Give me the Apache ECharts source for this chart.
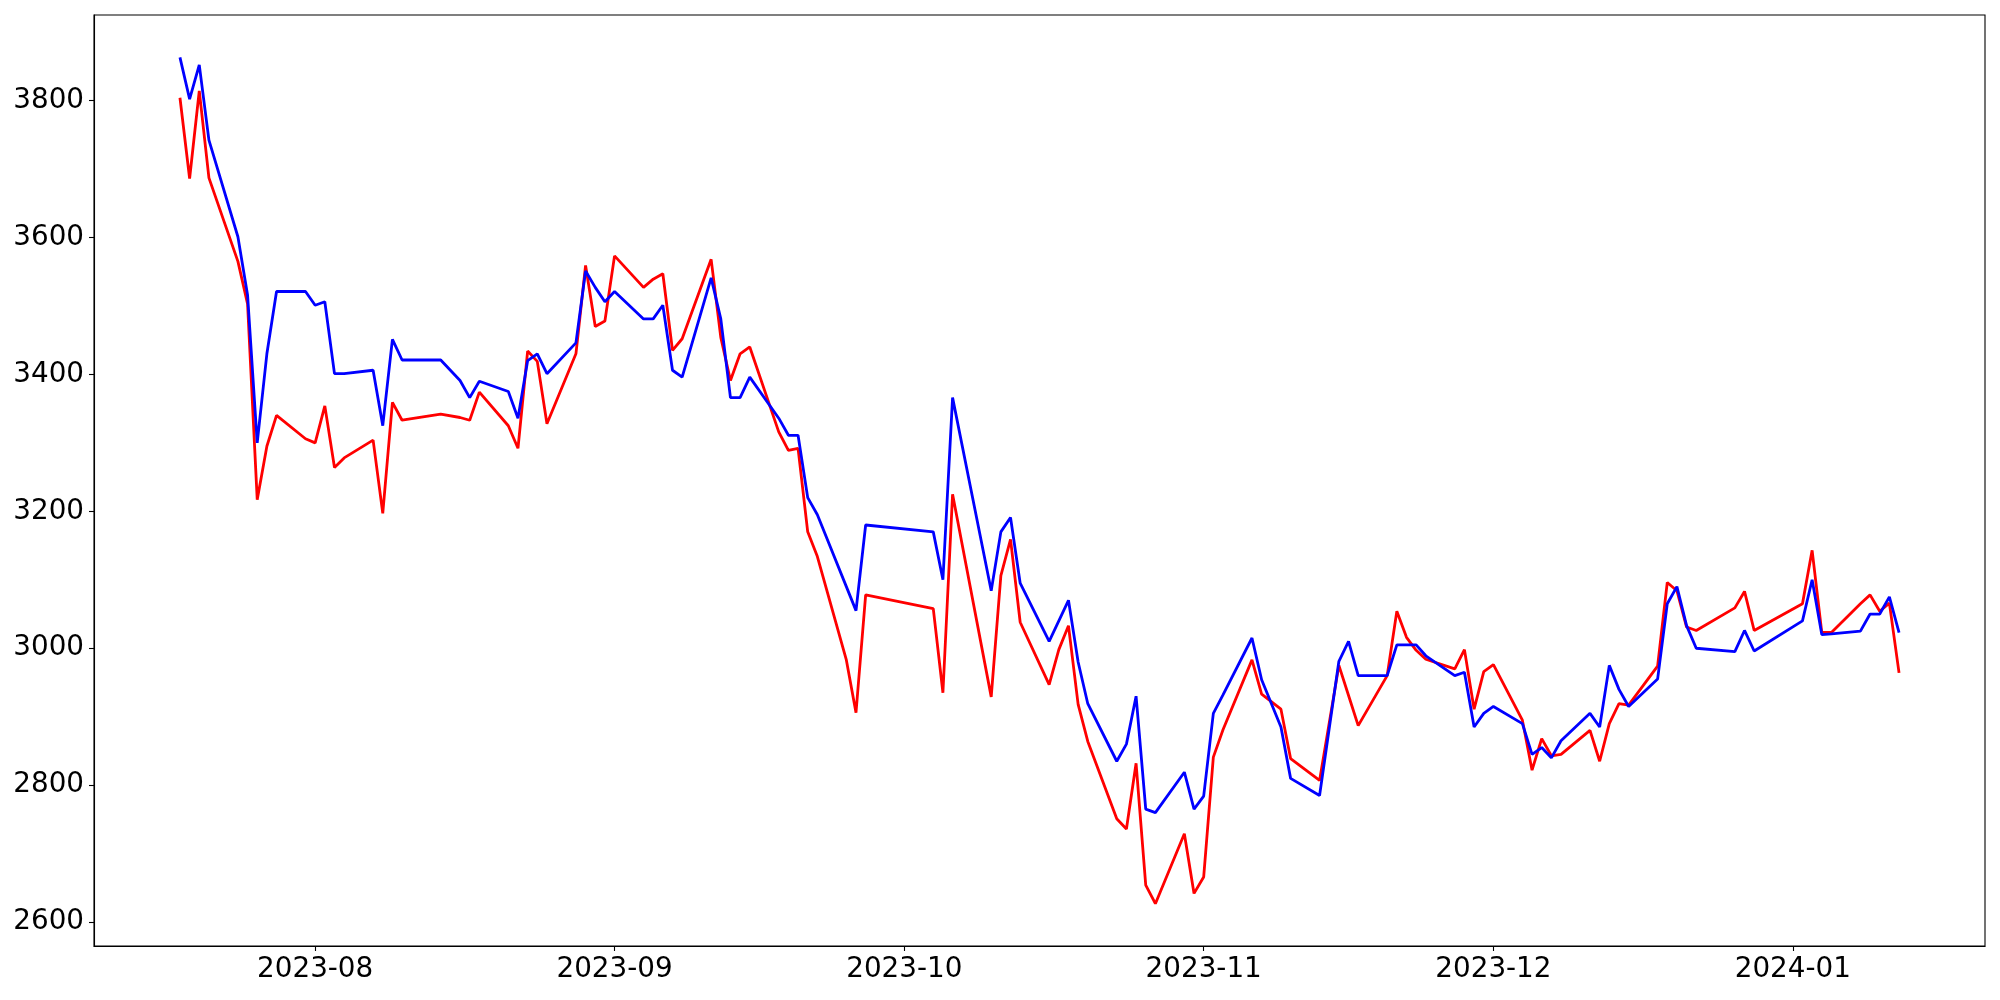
<!DOCTYPE html>
<html>
<head>
<meta charset="utf-8">
<script src="https://cdn.jsdelivr.net/npm/echarts@6/dist/echarts.min.js"></script>
<style>
  html, body { margin: 0; padding: 0; background: #fff; }
  #chart { width: 2000px; height: 1000px; }
</style>
</head>
<body>
<div id="chart"></div>
<script>
// trading days
const dates = [
  '2023-07-18', '2023-07-19', '2023-07-20', '2023-07-21', '2023-07-24', '2023-07-25', '2023-07-26', '2023-07-27', '2023-07-28', '2023-07-31',
  '2023-08-01', '2023-08-02', '2023-08-03', '2023-08-04', '2023-08-07', '2023-08-08', '2023-08-09', '2023-08-10', '2023-08-14', '2023-08-16',
  '2023-08-17', '2023-08-18', '2023-08-21', '2023-08-22', '2023-08-23', '2023-08-24', '2023-08-25', '2023-08-28', '2023-08-29', '2023-08-30',
  '2023-08-31', '2023-09-01', '2023-09-04', '2023-09-05', '2023-09-06', '2023-09-07', '2023-09-08', '2023-09-11', '2023-09-12', '2023-09-13',
  '2023-09-14', '2023-09-15', '2023-09-18', '2023-09-19', '2023-09-20', '2023-09-21', '2023-09-22', '2023-09-25', '2023-09-26', '2023-09-27',
  '2023-10-04', '2023-10-05', '2023-10-06', '2023-10-10', '2023-10-11', '2023-10-12', '2023-10-13', '2023-10-16', '2023-10-17', '2023-10-18',
  '2023-10-19', '2023-10-20', '2023-10-23', '2023-10-24', '2023-10-25', '2023-10-26', '2023-10-27', '2023-10-30', '2023-10-31', '2023-11-01',
  '2023-11-02', '2023-11-03', '2023-11-06', '2023-11-07', '2023-11-09', '2023-11-10', '2023-11-13', '2023-11-15', '2023-11-16', '2023-11-17',
  '2023-11-20', '2023-11-21', '2023-11-22', '2023-11-23', '2023-11-24', '2023-11-27', '2023-11-28', '2023-11-29', '2023-11-30', '2023-12-01',
  '2023-12-04', '2023-12-05', '2023-12-06', '2023-12-07', '2023-12-08', '2023-12-11', '2023-12-12', '2023-12-13', '2023-12-14', '2023-12-15',
  '2023-12-18', '2023-12-19', '2023-12-20', '2023-12-21', '2023-12-22', '2023-12-26', '2023-12-27', '2023-12-28', '2024-01-02', '2024-01-03',
  '2024-01-04', '2024-01-05', '2024-01-08', '2024-01-09', '2024-01-10', '2024-01-11', '2024-01-12'
]

const redValues = [
  3804, 3686, 3814, 3687, 3565, 3503, 3217, 3295, 3340, 3306,
  3300, 3354, 3264, 3278, 3304, 3197, 3359, 3333, 3342, 3337,
  3333, 3374, 3325, 3292, 3434, 3419, 3328, 3430, 3559, 3470,
  3478, 3573, 3527, 3539, 3547, 3435, 3452, 3568, 3454, 3391,
  3430, 3440, 3316, 3289, 3292, 3170, 3134, 2983, 2906, 3078,
  3058, 2935, 3225, 2929, 3106, 3159, 3038, 2947, 2998, 3033,
  2918, 2864, 2751, 2736, 2832, 2654, 2627, 2729, 2642, 2666,
  2841, 2881, 2983, 2933, 2911, 2839, 2807, 2975, 2931, 2887,
  2960, 3054, 3016, 2997, 2984, 2970, 2998, 2911, 2966, 2976,
  2895, 2822, 2868, 2843, 2845, 2880, 2835, 2890, 2919, 2917,
  2974, 3096, 3084, 3031, 3026, 3059, 3083, 3026, 3065, 3143,
  3023, 3023, 3065, 3078, 3054, 3066, 2964
]

const blueValues = [
  3863, 3802, 3852, 3742, 3601, 3516, 3300, 3430, 3521, 3521,
  3501, 3506, 3401, 3401, 3406, 3325, 3451, 3421, 3421, 3391,
  3366, 3390, 3375, 3336, 3420, 3430, 3401, 3446, 3551, 3527,
  3506, 3521, 3481, 3481, 3501, 3406, 3396, 3541, 3481, 3366,
  3366, 3396, 3336, 3311, 3311, 3220, 3195, 3090, 3055, 3180,
  3170, 3100, 3366, 3084, 3170, 3191, 3095, 3010, 3040, 3070,
  2980, 2919, 2835, 2860, 2930, 2765, 2760, 2819, 2765, 2784,
  2905, 2932, 3015, 2954, 2885, 2810, 2785, 2981, 3010, 2960,
  2960, 3005, 3005, 3005, 2989, 2960, 2965, 2885, 2905, 2915,
  2890, 2845, 2855, 2840, 2865, 2905, 2885, 2975, 2940, 2915,
  2955, 3065, 3090, 3033, 3000, 2995, 3026, 2996, 3040, 3100,
  3020, 3021, 3025, 3050, 3050, 3075, 3023
]

const xTicks = ['2023-08', '2023-09', '2023-10', '2023-11', '2023-12', '2024-01']
const yTicks = [2600, 2800, 3000, 3200, 3400, 3600, 3800]

function toTime(s) {
  const p = s.split('-').map(Number)
  return new Date(p[0], p[1] - 1, p[2] || 1).getTime()
}

const times = dates.map(toTime)
const xSpan = times[times.length - 1] - times[0]
const xMin = times[0] - xSpan * 0.05
const xMax = times[times.length - 1] + xSpan * 0.05
const allVals = redValues.concat(blueValues)
const yLo = Math.min.apply(null, allVals)
const yHi = Math.max.apply(null, allVals)
const yMin = yLo - (yHi - yLo) * 0.05
const yMax = yHi + (yHi - yLo) * 0.05

const font = { fontFamily: 'DejaVu Sans', fontSize: 27.8, color: '#000' }

let myChart = echarts.init(document.getElementById('chart'))
myChart.setOption({
  backgroundColor: '#fff',
  animation: false,
  grid: {
    left: 94,
    right: 15,
    top: 15,
    bottom: 54,
    show: true,
    borderColor: '#000',
    borderWidth: 1.1,
    containLabel: false,
    outerBoundsMode: 'none'
  },
  xAxis: {
    // value axis holding timestamps, so the month ticks can be placed exactly
    type: 'value',
    min: xMin,
    max: xMax,
    axisLine: { show: true, onZero: false, lineStyle: { color: '#000', width: 1.1 } },
    axisTick: {
      show: true,
      length: 5,
      lineStyle: { color: '#000', width: 1.1 },
      customValues: xTicks.map(toTime)
    },
    axisLabel: Object.assign({
      margin: 10,
      customValues: xTicks.map(toTime),
      formatter: function (v) {
        const d = new Date(v)
        return d.getFullYear() + '-' + String(d.getMonth() + 1).padStart(2, '0')
      }
    }, font),
    splitLine: { show: false }
  },
  yAxis: {
    type: 'value',
    min: yMin,
    max: yMax,
    axisLine: { show: true, onZero: false, lineStyle: { color: '#000', width: 1.1 } },
    axisTick: {
      show: true,
      length: 5,
      lineStyle: { color: '#000', width: 1.1 },
      customValues: yTicks
    },
    axisLabel: Object.assign({
      margin: 10,
      customValues: yTicks,
      formatter: function (v) { return String(v) }
    }, font),
    splitLine: { show: false }
  },
  series: [
    {
      name: 'red',
      type: 'line',
      data: times.map((t, i) => [t, redValues[i]]),
      showSymbol: false,
      lineStyle: { color: '#ff0000', width: 2.8 },
      itemStyle: { color: '#ff0000' }
    },
    {
      name: 'blue',
      type: 'line',
      data: times.map((t, i) => [t, blueValues[i]]),
      showSymbol: false,
      lineStyle: { color: '#0000ff', width: 2.8 },
      itemStyle: { color: '#0000ff' }
    }
  ]
})
</script>
</body>
</html>
